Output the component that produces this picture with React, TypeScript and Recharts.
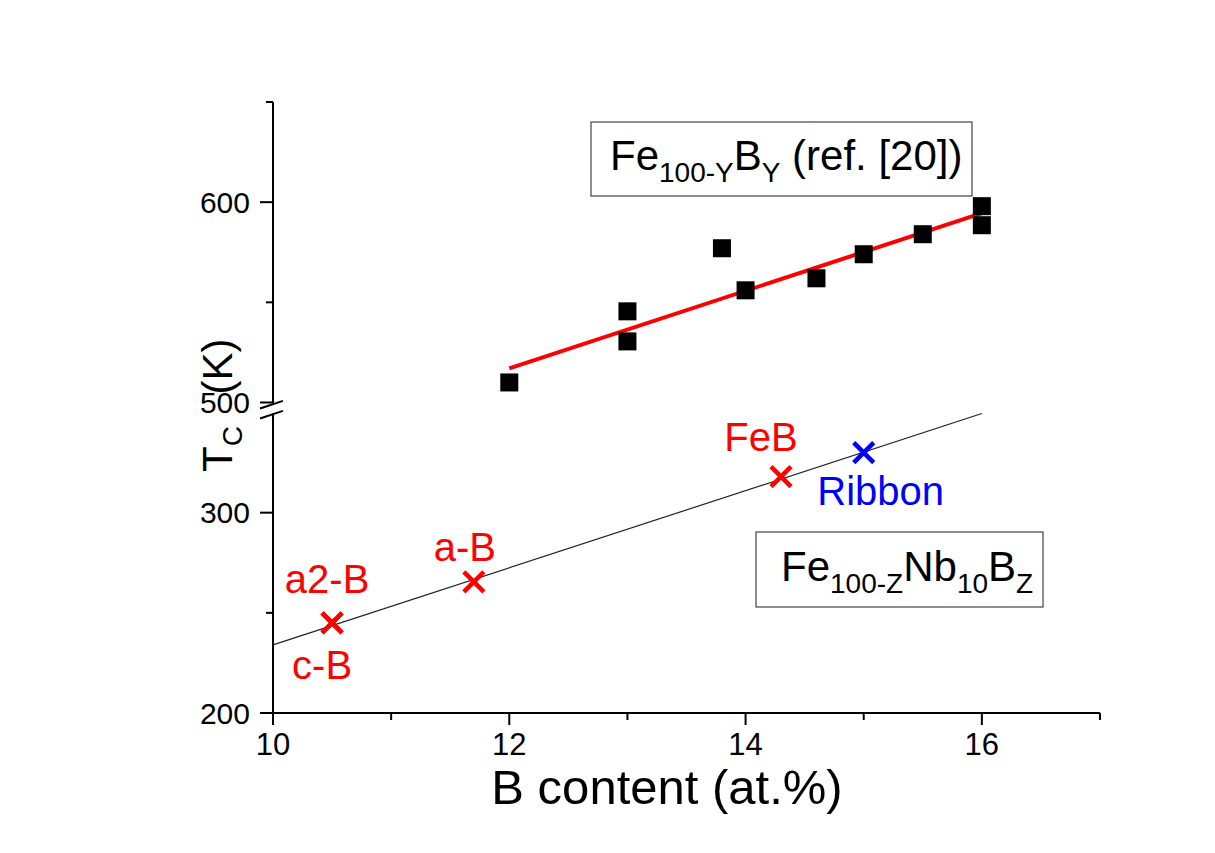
import React from 'react';
import { ComposedChart, Scatter, XAxis, YAxis, ReferenceLine } from 'recharts';

// Fe(100-Y)B(Y), ref. [20] -- upper part of the broken axis
const feBContent = [12, 13, 13, 13.8, 14, 14.6, 15, 15.5, 16, 16];
const feBTc = [510, 545.5, 530.5, 577, 556, 562, 574, 584, 598, 588.5];
const feBFitContent = [12, 16];
const feBFitTc = [517, 594.5];

// Fe(100-Z)Nb10B(Z) samples -- lower part
const sampleNames = ['a2-B', 'c-B', 'a-B', 'FeB', 'Ribbon'];
const sampleContent = [10.5, 10.5, 11.7, 14.3, 15];
const sampleTc = [245, 245, 265.5, 318, 330];
const nbFitContent = [10, 16];
const nbFitTc = [234, 349.5];

const xTicks = [10, 11, 12, 13, 14, 15, 16, 17];
const xLabelTicks = [10, 12, 14, 16];
const yTickValues = [200, 250, 300, 500, 550, 600, 650];
const yLabelValues = [200, 300, 500, 600];

// axis break: everything above 450 K is shifted down by 145 on the drawn axis
const BREAK_FROM = 450;
const BREAK_GAP = 145;
const toAxis = (v: number) => (v >= BREAK_FROM ? v - BREAK_GAP : v);
const fromAxis = (t: number) => (t > 352 ? t + BREAK_GAP : t);

const feBData = feBContent.map((x, i) => ({ x, y: toAxis(feBTc[i]) }));
const feBFit = feBFitContent.map((x, i) => ({ x, y: toAxis(feBFitTc[i]) }));
const samples = sampleContent.map((x, i) => ({ x, y: toAxis(sampleTc[i]), name: sampleNames[i] }));
const nbFit = nbFitContent.map((x, i) => ({ x, y: toAxis(nbFitTc[i]) }));

const RED = '#ff0000';
const BLUE = '#0000ff';
const FONT = 'Arial, "Liberation Sans", sans-serif';

// where each sample name sits relative to its cross
const labelOffset: Record<string, [number, number]> = {
  'a2-B': [-5, -44],
  'c-B': [-10, 42],
  'a-B': [-9, -35],
  FeB: [-20, -40],
  Ribbon: [17, 38],
};

const Square = (props: any) => {
  const { cx, cy } = props;
  return <rect x={cx - 9} y={cy - 9} width={18} height={18} fill="#000" />;
};

const Cross = (props: any) => {
  const { cx, cy, payload } = props;
  const color = payload.name === 'Ribbon' ? BLUE : RED;
  const [dx, dy] = labelOffset[payload.name] || [0, 0];
  const h = 10;
  return (
    <g>
      <line x1={cx - h} y1={cy - h} x2={cx + h} y2={cy + h} stroke={color} strokeWidth={4.5} />
      <line x1={cx - h} y1={cy + h} x2={cx + h} y2={cy - h} stroke={color} strokeWidth={4.5} />
      <text x={cx + dx} y={cy + dy} dy="0.36em" textAnchor="middle" fontSize={40} fill={color} fontFamily={FONT}>
        {payload.name}
      </text>
    </g>
  );
};

const Nothing = () => <g />;

const XTick = (props: any) => {
  const { x, y, payload } = props;
  const major = xLabelTicks.includes(payload.value);
  return (
    <g>
      <line x1={x} y1={y} x2={x} y2={y + (major ? 12 : 7)} stroke="#000" strokeWidth={2} />
      {major && (
        <text x={x} y={y + 42} textAnchor="middle" fontSize={31} fill="#000" fontFamily={FONT}>
          {payload.value}
        </text>
      )}
    </g>
  );
};

const YTick = (props: any) => {
  const { x, y, payload } = props;
  const v = fromAxis(payload.value);
  const major = yLabelValues.includes(v);
  return (
    <g>
      <line x1={x} y1={y} x2={x - (major ? 13 : 7)} y2={y} stroke="#000" strokeWidth={2} />
      {major && (
        <text x={x - 23} y={y} dy="0.36em" textAnchor="end" fontSize={30} fill="#000" fontFamily={FONT}>
          {v}
        </text>
      )}
    </g>
  );
};

export default function App() {
  return (
    <div style={{ position: 'absolute', left: 0, top: 0, width: 1215, height: 853, background: '#fff' }}>
      <ComposedChart
        width={1215}
        height={853}
        margin={{ top: 102, right: 115, bottom: 100, left: 213 }}
      >
        <XAxis
          type="number"
          dataKey="x"
          domain={[10, 17]}
          ticks={xTicks}
          height={40}
          tick={<XTick />}
          tickLine={false}
          tickSize={0}
          tickMargin={0}
          axisLine={{ stroke: '#000', strokeWidth: 2 }}
        />
        <YAxis
          type="number"
          dataKey="y"
          domain={[200, 505]}
          ticks={yTickValues.map(toAxis)}
          width={60}
          tick={<YTick />}
          tickLine={false}
          tickSize={0}
          tickMargin={0}
          axisLine={false}
        />
        {/* broken y axis line */}
        <ReferenceLine segment={[{ x: 10, y: 200 }, { x: 10, y: 349.5 }]} stroke="#000" strokeWidth={2} ifOverflow="visible" />
        <ReferenceLine segment={[{ x: 10, y: 354.5 }, { x: 10, y: 505 }]} stroke="#000" strokeWidth={2} ifOverflow="visible" />
        <ReferenceLine segment={[{ x: 9.89, y: 347 }, { x: 10.084, y: 350.8 }]} stroke="#000" strokeWidth={2} ifOverflow="visible" />
        <ReferenceLine segment={[{ x: 9.89, y: 352 }, { x: 10.084, y: 355.8 }]} stroke="#000" strokeWidth={2} ifOverflow="visible" />

        <Scatter data={nbFit} line={{ stroke: '#222', strokeWidth: 1.2 }} shape={<Nothing />} isAnimationActive={false} />
        <Scatter data={feBFit} line={{ stroke: RED, strokeWidth: 4 }} shape={<Nothing />} isAnimationActive={false} />
        <Scatter data={feBData} shape={<Square />} isAnimationActive={false} />
        <Scatter data={samples} shape={<Cross />} isAnimationActive={false} />
      </ComposedChart>

      <svg width={1215} height={853} style={{ position: 'absolute', left: 0, top: 0, pointerEvents: 'none' }} fontFamily={FONT}>
        <rect x={591} y={122} width={381} height={74} fill="none" stroke="#444" strokeWidth={1.2} />
        <text x={610} y={170} fontSize={42} fill="#000">
          Fe<tspan fontSize={28} dy={12}>100-Y</tspan>
          <tspan dy={-12}>B</tspan>
          <tspan fontSize={28} dy={12}>Y</tspan>
          <tspan dy={-12}> (ref. [20])</tspan>
        </text>

        <rect x={756} y={532} width={287} height={75} fill="none" stroke="#444" strokeWidth={1.2} />
        <text x={781} y={581} fontSize={42} fill="#000">
          Fe<tspan fontSize={28} dy={12}>100-Z</tspan>
          <tspan dy={-12}>Nb</tspan>
          <tspan fontSize={28} dy={12}>10</tspan>
          <tspan dy={-12}>B</tspan>
          <tspan fontSize={28} dy={12}>Z</tspan>
        </text>

        <text x={667} y={804} textAnchor="middle" fontSize={49} fill="#000">
          B content (at.%)
        </text>
        <text x={232} y={472} transform="rotate(-90 232 472)" fontSize={42} fill="#000">
          T<tspan fontSize={28} dy={10}>C</tspan>
          <tspan dy={-10} dx={20}> (K)</tspan>
        </text>
      </svg>
    </div>
  );
}
